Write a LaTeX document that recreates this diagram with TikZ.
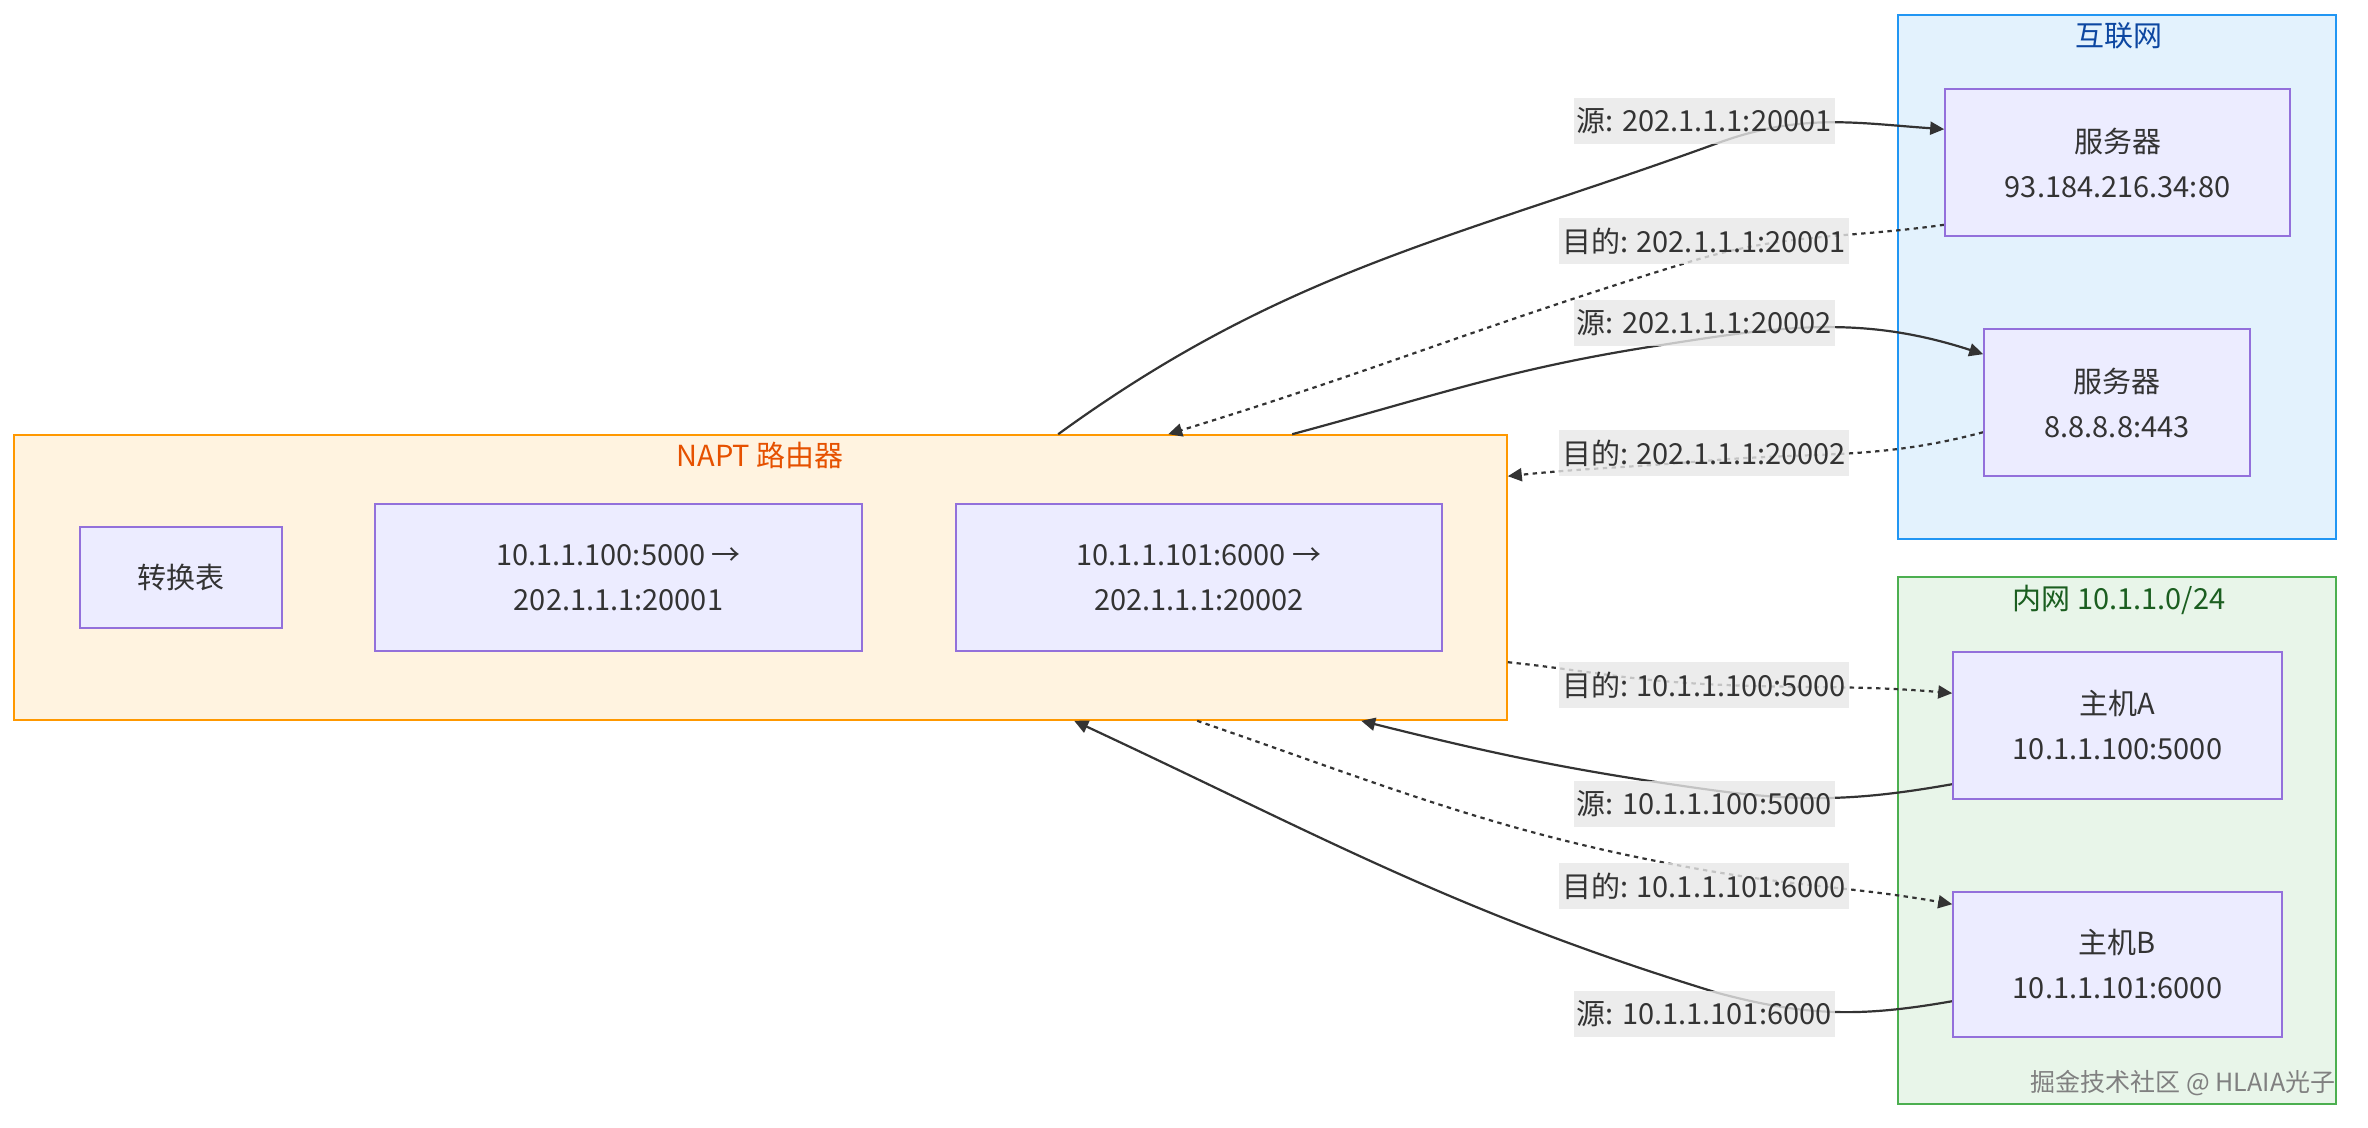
\documentclass[tikz,border=0pt]{standalone}
\usepackage{fontspec}
\setmainfont{Noto Sans CJK SC}
\usetikzlibrary{arrows.meta,calc}
\definecolor{nodefill}{HTML}{ECECFF}
\definecolor{nodestroke}{HTML}{9370DB}
\definecolor{edgecol}{HTML}{333333}
\definecolor{txtcol}{HTML}{333333}
\definecolor{lblbg}{HTML}{E8E8E8}
\definecolor{inetfill}{HTML}{E3F2FD}
\definecolor{inetstroke}{HTML}{2196F3}
\definecolor{inettext}{HTML}{0D47A1}
\definecolor{naptfill}{HTML}{FFF3E0}
\definecolor{naptstroke}{HTML}{FF9800}
\definecolor{napttext}{HTML}{E65100}
\definecolor{lanfill}{HTML}{E8F5E9}
\definecolor{lanstroke}{HTML}{4CAF50}
\definecolor{lantext}{HTML}{1B5E20}
\pgfdeclarelayer{clusterlayer}
\pgfdeclarelayer{edgelayer}
\pgfsetlayers{clusterlayer,edgelayer,main}
\newcommand{\mainfs}{\fontsize{14.5}{22.5}\selectfont}
\begin{document}
\begin{tikzpicture}[x=0.5pt,y=-0.5pt,
  box/.style={draw=nodestroke, fill=nodefill, line width=0.8pt, text=txtcol,
    font=\mainfs, align=center, inner sep=0pt},
  cluster/.style={line width=0.8pt, inner sep=0pt},
  ctitle/.style={font=\mainfs, inner sep=0pt},
  elabel/.style={fill=lblbg, fill opacity=0.8, text opacity=1, text=txtcol,
    font=\mainfs, inner xsep=1.5pt, inner ysep=5pt},
  solidedge/.style={draw=edgecol, line width=1.1pt, -{Triangle[length=7pt,width=6.5pt]}},
  dotedge/.style={draw=edgecol, line width=1.1pt, dash pattern=on 2.2pt off 2.2pt,
    -{Triangle[length=7pt,width=6.5pt]}}
]
% clusters
\begin{pgfonlayer}{clusterlayer}
\fill[white] (0,0) rectangle (2368,1128);
\node[cluster, draw=inetstroke, fill=inetfill, minimum width=219pt, minimum height=262pt] (inet) at (2117,277) {};
\node[cluster, draw=naptstroke, fill=naptfill, minimum width=746.5pt, minimum height=142.5pt] (napt) at (760.5,577.5) {};
\node[cluster, draw=lanstroke, fill=lanfill, minimum width=219pt, minimum height=263.5pt] (lan) at (2117,840.5) {};
\end{pgfonlayer}
\node[ctitle, text=inettext] (inettitle) at (2119,36) {互联网};
\node[ctitle, text=napttext] (nantitle) at (760,455) {NAPT 路由器};
\node[ctitle, text=lantext] (lantitle) at (2119,600) {内网 10.1.1.0/24};

% nodes
\node[box, minimum width=172.5pt, minimum height=73.5pt] (srv1) at (2117.5,162.5) {服务器\\93.184.216.34:80};
\node[box, minimum width=133pt, minimum height=73.5pt] (srv2) at (2117,402.5) {服务器\\8.8.8.8:443};
\node[box, minimum width=101pt, minimum height=50.5pt] (tbl) at (181,577.5) {转换表};
\node[box, minimum width=243.5pt, minimum height=73.5pt] (map1) at (618.5,577.5) {10.1.1.100:5000 →\\202.1.1.1:20001};
\node[box, minimum width=243pt, minimum height=73.5pt] (map2) at (1199,577.5) {10.1.1.101:6000 →\\202.1.1.1:20002};
\node[box, minimum width=164.5pt, minimum height=73.5pt] (hostA) at (2117.5,725.5) {主机A\\10.1.1.100:5000};
\node[box, minimum width=164.5pt, minimum height=72.5pt] (hostB) at (2117.5,964.5) {主机B\\10.1.1.101:6000};

% edge labels
\node[elabel] (l1) at (1704,121) {源: 202.1.1.1:20001};
\node[elabel] (l2) at (1704,241) {目的: 202.1.1.1:20001};
\node[elabel] (l3) at (1704,323) {源: 202.1.1.1:20002};
\node[elabel] (l4) at (1704,453) {目的: 202.1.1.1:20002};
\node[elabel] (l5) at (1704,685) {目的: 10.1.1.100:5000};
\node[elabel] (l6) at (1704,804) {源: 10.1.1.100:5000};
\node[elabel] (l7) at (1704,886) {目的: 10.1.1.101:6000};
\node[elabel] (l8) at (1704,1014) {源: 10.1.1.101:6000};

% edges
\begin{pgfonlayer}{edgelayer}
\draw[solidedge] ($(napt.north west)+(1045,0)$) to[out=36,in=200] ($(l1.center)+(14,22)$)
  to[out=20,in=176] ($(srv1.north west)+(0,41)$);
\draw[dotedge] ($(srv1.south west)+(0,-12)$) to[out=188,in=17] ($(l2.center)+(-15,21)$)
  to[out=197,in=17] ($(napt.north west)+(1155,0)$);
\draw[solidedge] ($(napt.north west)+(1279,0)$) to[out=15,in=189] ($(l3.center)+(-55,24)$)
  to[out=9,in=162] ($(srv2.north west)+(0,26)$);
\draw[dotedge] ($(srv2.north west)+(0,104)$) to[out=195,in=5] ($(l4.center)+(0,8)$)
  to[out=185,in=6] ($(napt.north east)+(0,42)$);
\draw[dotedge] ($(napt.north east)+(0,228)$) to[out=-6,in=177] ($(l5.center)+(0,-1)$)
  to[out=-3,in=175] ($(hostA.north west)+(0,42)$);
\draw[solidedge] ($(hostA.north west)+(0,133)$) to[out=190,in=-8] ($(l6.center)+(0,-15)$)
  to[out=172,in=-14] ($(napt.south west)+(1348,0)$);
\draw[dotedge] ($(napt.south west)+(1184,0)$) to[out=-19,in=170] ($(l7.center)+(0,-16)$)
  to[out=-10,in=170] ($(hostB.north west)+(0,13)$);
\draw[solidedge] ($(hostB.north west)+(0,110)$) to[out=190,in=-15] ($(l8.center)+(14,-21)$)
  to[out=163,in=-25] ($(napt.south west)+(1061,0)$);
\end{pgfonlayer}

% watermark
\node[font=\fontsize{12.5}{14}\selectfont, text=gray, inner sep=0pt] (wm) at (2183,1083) {掘金技术社区 @ HLAIA光子};
\end{tikzpicture}
\end{document}
